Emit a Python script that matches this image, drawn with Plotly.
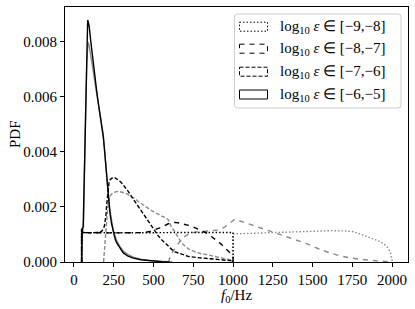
import plotly.graph_objects as go

# ---------------- data ----------------
# black = first set, gray = second set; four epsilon ranges
bdt_x = [48, 48, 55, 200, 400, 600, 800, 997, 1000, 1000]
bdt_y = [0, 0.0011, 0.00107, 0.00106, 0.00106, 0.00107, 0.00106, 0.00107, 0.00107, 0]

gdt_x = [1000, 1000, 1050, 1100, 1211, 1300, 1400, 1500, 1628, 1700, 1750, 1800, 1840,
         1880, 1922, 1950, 1975, 1990, 1996, 2002]
gdt_y = [0, 0.00102, 0.00103, 0.00104, 0.00105, 0.00107, 0.00109, 0.00112, 0.00114, 0.00113,
         0.00111, 0.00102, 0.00093, 0.00086, 0.00075, 0.00065, 0.00051, 0.00033, 0.0002, 0]

bld_x = [48, 48, 55, 100, 200, 300, 400, 440, 477, 510, 540, 570, 593, 615, 635, 660, 687,
         720, 750, 790, 834, 866, 897, 925, 949, 970, 991, 1000, 1000]
bld_y = [0, 0.0012, 0.00107, 0.00106, 0.00106, 0.00106, 0.00106, 0.00107, 0.00111, 0.00117,
         0.00124, 0.00132, 0.00139, 0.00142, 0.00144, 0.00142, 0.00139, 0.00133, 0.00127,
         0.00117, 0.00105, 0.00092, 0.00079, 0.00065, 0.00051, 0.0004, 0.00027, 0.00022, 0]

gld_x = [596, 603, 620, 640, 660, 690, 729, 770, 810, 850, 880, 907, 950, 970, 990, 1012,
         1040, 1075, 1105, 1137, 1170, 1200, 1270, 1336, 1400, 1462, 1530, 1609, 1670, 1734,
         1800, 1860, 1910, 1965, 1985]
gld_y = [0, 0.0002, 0.00037, 0.00055, 0.0007, 0.0009, 0.00105, 0.00109, 0.00111, 0.00112,
         0.00114, 0.00116, 0.00128, 0.00136, 0.00147, 0.00156, 0.0015, 0.00143, 0.00136,
         0.0013, 0.00123, 0.00117, 0.00104, 0.00091, 0.00079, 0.00067, 0.0005, 0.00033,
         0.00023, 0.00015, 0.0001, 0.00006, 0.00004, 0.00002, 0]

bsd_x = [48, 48, 55, 80, 110, 140, 160, 174, 183, 191, 196, 201, 206, 212, 220, 228, 237,
         247, 258, 268, 284, 300, 320, 341, 362, 383, 404, 425, 446, 467, 488, 509, 530, 551,
         572, 593, 614, 635, 677, 720, 780, 844, 920, 990, 1000, 1000]
bsd_y = [0, 0.0012, 0.00107, 0.00106, 0.00106, 0.00107, 0.00108, 0.00111, 0.0012, 0.0013,
         0.0015, 0.0017, 0.0021, 0.00245, 0.00287, 0.003, 0.00305, 0.00308, 0.00306, 0.00303,
         0.00296, 0.00287, 0.00273, 0.00257, 0.00238, 0.0022, 0.00202, 0.00184, 0.00166,
         0.00148, 0.0013, 0.00111, 0.00095, 0.00081, 0.00068, 0.00057, 0.00046, 0.00037,
         0.00028, 0.0002, 0.00016, 0.00013, 0.00009, 0.00005, 0.00004, 0]

gsd_x = [186, 190, 195, 201, 206, 212, 219, 226, 236, 247, 262, 278, 300, 320, 341, 362, 383,
         404, 425, 446, 467, 488, 509, 530, 551, 572, 585, 593, 604, 614, 625, 635, 656, 677,
         700, 720, 760, 800, 834, 880, 920, 960, 990, 1000]
gsd_y = [0, 0.0003, 0.0007, 0.0011, 0.0016, 0.00196, 0.0022, 0.00239, 0.00247, 0.00251,
         0.00255, 0.00257, 0.00255, 0.00251, 0.00245, 0.00239, 0.0023, 0.0022, 0.00211,
         0.00202, 0.00194, 0.00187, 0.0018, 0.00172, 0.00167, 0.00162, 0.00158, 0.00154,
         0.0014, 0.00124, 0.00117, 0.0011, 0.00088, 0.00069, 0.00056, 0.00048, 0.00037,
         0.0003, 0.00027, 0.0002, 0.00014, 0.0001, 0.00008, 0]

bs_x = [48, 48, 52, 58, 64, 69, 75, 80, 86, 91, 96, 104, 111, 120, 132, 143, 153, 164, 174,
        180, 184, 190, 195, 200, 205, 210, 216, 221, 226, 236, 247, 258, 268, 290, 310, 340,
        373, 420, 477, 550, 600]
bs_y = [0, 0.00115, 0.0012, 0.0013, 0.0031, 0.0047, 0.0063, 0.0077, 0.0088, 0.0087, 0.00855,
        0.0081, 0.00772, 0.0072, 0.00663, 0.0062, 0.00578, 0.0054, 0.00505, 0.0048, 0.00457,
        0.0042, 0.00384, 0.0034, 0.00299, 0.0026, 0.00227, 0.002, 0.00178, 0.0014, 0.00105,
        0.00085, 0.0007, 0.00048, 0.00033, 0.00021, 0.00014, 0.00008, 0.00004, 0.00001, 0]

gs_x = [48, 48, 54, 60, 70, 80, 88, 94, 100, 111, 132, 153, 174, 184, 195, 205, 216, 226, 236,
        247, 268, 290, 310, 340, 373, 420, 477, 550, 620]
gs_y = [0, 0.00105, 0.0011, 0.0013, 0.0045, 0.0072, 0.0080, 0.0079, 0.0077, 0.0073, 0.0065,
        0.0057, 0.0050, 0.0046, 0.0039, 0.0031, 0.0024, 0.0019, 0.0015, 0.00115, 0.00078,
        0.00055, 0.0004, 0.00027, 0.00018, 0.0001, 0.00005, 0.00002, 0]

legend_labels = ["[−9,−8]", "[−8,−7]", "[−7,−6]", "[−6,−5]"]
x_ticks = [0, 250, 500, 750, 1000, 1250, 1500, 1750, 2000]
y_ticks = [0, 0.002, 0.004, 0.006, 0.008]

# ---------------- styles ----------------
BLACK = "#000000"
GRAY = "#8a8a8a"
DOT = "1.5px,2px"
LDASH = "5px,5px"
SDASH = "4px,2px"
LW = 1.4
FONT = "Liberation Serif, Times New Roman, serif"

fig = go.Figure()

series = [
    (gdt_x, gdt_y, GRAY, DOT), (gld_x, gld_y, GRAY, LDASH),
    (gsd_x, gsd_y, GRAY, SDASH), (gs_x, gs_y, GRAY, "solid"),
    (bdt_x, bdt_y, BLACK, DOT), (bld_x, bld_y, BLACK, LDASH),
    (bsd_x, bsd_y, BLACK, SDASH), (bs_x, bs_y, BLACK, "solid"),
]
for xs, ys, col, dash in series:
    fig.add_trace(go.Scatter(x=xs, y=ys, mode="lines", showlegend=False,
                             line=dict(color=col, width=LW, dash=dash),
                             hoverinfo="skip"))

# plot area in pixels
L, R, T, B = 65, 408, 7, 262
W, H = 415, 309


def pxx(x):
    return (x - L) / (R - L)


def pxy(y):
    return (B - y) / (B - T)


shapes = []
annotations = []

# legend frame (rounded)
x0, x1, y0, y1 = pxx(234.5), pxx(401), pxy(14), pxy(108)
rx, ry = 3 / (R - L), 3 / (B - T)
path = (f"M {x0+rx},{y0} L {x1-rx},{y0} Q {x1},{y0} {x1},{y0-ry} "
        f"L {x1},{y1+ry} Q {x1},{y1} {x1-rx},{y1} L {x0+rx},{y1} "
        f"Q {x0},{y1} {x0},{y1+ry} L {x0},{y0-ry} Q {x0},{y0} {x0+rx},{y0} Z")
shapes.append(dict(type="path", path=path, xref="paper", yref="paper",
                   line=dict(color="#cccccc", width=1), fillcolor="rgba(255,255,255,0.8)",
                   layer="above"))

rows = [26.7, 48.7, 71.7, 94.5]
dashes = [DOT, LDASH, SDASH, "solid"]
for cy, dash, lab in zip(rows, dashes, legend_labels):
    shapes.append(dict(type="rect", xref="paper", yref="paper",
                       x0=pxx(239.5), x1=pxx(267.5), y0=pxy(cy - 4.5), y1=pxy(cy + 4.5),
                       line=dict(color=BLACK, width=1, dash=dash),
                       fillcolor="rgba(0,0,0,0)", layer="above"))
    annotations.append(dict(xref="paper", yref="paper", x=pxx(277.5), y=pxy(cy),
                            xanchor="left", yanchor="middle", showarrow=False,
                            text="log<sub>10</sub> <i>ε</i> ∈ " + lab,
                            font=dict(family=FONT, size=15, color="black")))

# axis titles
annotations.append(dict(xref="paper", yref="paper", x=pxx(236.5), y=pxy(296),
                        xanchor="center", yanchor="middle", showarrow=False,
                        text="<i>f</i><sub>0</sub>/Hz",
                        font=dict(family=FONT, size=15, color="black")))
annotations.append(dict(xref="paper", yref="paper", x=pxx(15), y=pxy(134),
                        xanchor="center", yanchor="middle", showarrow=False,
                        text="PDF", textangle=-90,
                        font=dict(family=FONT, size=15, color="black")))

fig.update_layout(
    width=W, height=H,
    margin=dict(l=L, r=W - R, t=T, b=H - B, pad=0),
    paper_bgcolor="white", plot_bgcolor="white",
    font=dict(family=FONT, size=15, color="black"),
    shapes=shapes, annotations=annotations,
    xaxis=dict(range=[-56.5, 2100], tickvals=x_ticks, ticks="outside", ticklen=4,
               tickwidth=1, tickcolor="black", showline=True, linecolor="black",
               linewidth=1, mirror=True, showgrid=False, zeroline=False,
               automargin=False,
               tickfont=dict(family=FONT, size=15, color="black")),
    yaxis=dict(range=[0, 0.00927], tickvals=y_ticks, tickformat=".3f", ticks="outside",
               ticklen=4, tickwidth=1, tickcolor="black", showline=True,
               linecolor="black", linewidth=1, mirror=True, showgrid=False,
               zeroline=False, automargin=False,
               tickfont=dict(family=FONT, size=15, color="black")),
)

fig.write_html("out.html",
               config={"displayModeBar": False},
               post_script="document.body.style.margin='0';"
                           "document.body.style.padding='0';"
                           "document.body.style.overflow='hidden';")
